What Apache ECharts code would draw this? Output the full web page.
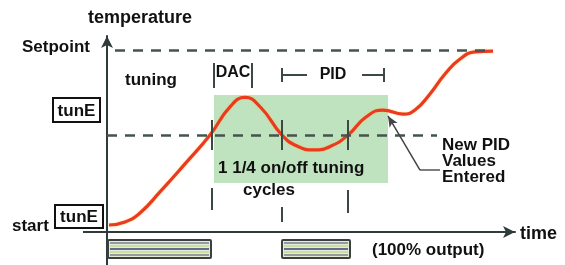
<!DOCTYPE html>
<html>
<head>
<meta charset="utf-8">
<script src="https://cdn.jsdelivr.net/npm/echarts@6/dist/echarts.min.js"></script>
<style>
html,body{margin:0;padding:0;background:#fff;}
#c{width:565px;height:265px;}
</style>
</head>
<body>
<div id="c"></div>
<script>
// ---- data (time units, temperature units: start = 0, setpoint = 100) ----
const timeVals = [0.5, 4.5, 8.25, 13.25, 19.5, 25.75, 30.75, 34.5, 38.5, 43.75, 47.5, 51.75, 56, 60.25, 64.75, 69, 74, 77, 80.75, 84.5, 88.25, 92, 96.5];
const tempVals = [0, 1.7, 6.9, 18.9, 34.9, 51.4, 67.5, 72.9, 67, 51.4, 45.1, 42.9, 45.1, 51.4, 61.7, 65.7, 63.4, 65.7, 74.9, 86.3, 94.9, 98.9, 99.4];
const setpointTemp = 100;
const setpointSpan = [2, 95];
const tuneTemp = 51.4;
const tuneSpan = [0, 82.5];
const tuningBox = [[26.75, 74.3], [70.25, 24]];
const markerTimes = [26.25, 43.75, 60.25];
const markerUpper = [[60, 42.9], [60, 42.9], [60, 42.9]];
const markerLower = [[21.1, 8.6], [10.3, 1.7], [20, 6.9]];
const dacSpan = [26.75, 36.25];
const dacTemps = [78.3, 92.6];
const pidSpan = [43.75, 69.25];
const pidTemps = [81.7, 89.7];
const pidBarTemp = 85.7;
const pidGap = [50, 63.75];
const arrowFrom = [78.25, 31.4];
const arrowTo = [70.25, 62.3];
const arrowTail = [83.25, 31.4];
const outputOn = [[0.25, 26], [43.75, 60.75]];

const chart = echarts.init(document.getElementById('c'), null, {renderer: 'canvas'});
const dark = '#2f3b3a';
const dashCol = '#46534f';
const F = '"Liberation Sans", Arial, sans-serif';

const curve = timeVals.map((t, i) => [t, tempVals[i]]);

function seg(a, b) { return [{coord: a}, {coord: b}]; }

const markerSegs = [];
markerTimes.forEach((t, i) => {
  markerSegs.push(seg([t, markerUpper[i][0]], [t, markerUpper[i][1]]));
  markerSegs.push(seg([t, markerLower[i][0]], [t, markerLower[i][1]]));
});

const bracketSegs = [
  seg([dacSpan[0], dacTemps[0]], [dacSpan[0], dacTemps[1]]),
  seg([dacSpan[1], dacTemps[0]], [dacSpan[1], dacTemps[1]]),
  seg([pidSpan[0], pidTemps[0]], [pidSpan[0], pidTemps[1]]),
  seg([pidSpan[1], pidTemps[0]], [pidSpan[1], pidTemps[1]]),
  seg([pidSpan[0], pidBarTemp], [pidGap[0], pidBarTemp]),
  seg([pidGap[1], pidBarTemp], [pidSpan[1], pidBarTemp])
];

function txt(text, x, y, align, size) {
  return {type: 'text', x: x, y: y, z: 100, style: {text: text, fill: '#111', font: 'bold ' + (size || 17) + 'px ' + F, textAlign: align || 'left', textVerticalAlign: 'middle'}};
}
function boxTxt(text, x1, y1, x2, y2) {
  return [
    {type: 'rect', z: 100, shape: {x: x1, y: y1, width: x2 - x1, height: y2 - y1}, style: {fill: '#fff', stroke: '#111', lineWidth: 2}},
    {type: 'text', z: 101, x: (x1 + x2) / 2, y: (y1 + y2) / 2 + 1, style: {text: text, fill: '#111', font: 'bold 17px ' + F, textAlign: 'center', textVerticalAlign: 'middle'}}
  ];
}

const option = {
  backgroundColor: '#fff',
  animation: false,
  grid: [
    {left: 107, top: 36, width: 408, height: 196},
    {left: 107, top: 233, width: 408, height: 32}
  ],
  xAxis: [
    {type: 'value', gridIndex: 0, min: 0, max: 102, splitLine: {show: false}, axisTick: {show: false}, axisLabel: {show: false},
     axisLine: {show: true, onZero: false, symbol: ['none', 'arrow'], symbolSize: [9, 12], lineStyle: {color: dark, width: 2}}},
    {type: 'value', gridIndex: 1, min: 0, max: 102, show: false}
  ],
  yAxis: [
    {type: 'value', gridIndex: 0, min: -4, max: 108, splitLine: {show: false}, axisTick: {show: false}, axisLabel: {show: false},
     axisLine: {show: true, onZero: false, symbol: ['none', 'arrow'], symbolSize: [9, 12], lineStyle: {color: dark, width: 2}}},
    {type: 'value', gridIndex: 1, min: 0, max: 1, splitLine: {show: false}, axisTick: {show: false}, axisLabel: {show: false},
     axisLine: {show: true, onZero: false, lineStyle: {color: dark, width: 2}}}
  ],
  series: [
    {
      type: 'line', xAxisIndex: 0, yAxisIndex: 0, data: [], z: 1,
      markArea: {silent: true, itemStyle: {color: '#bfe3bf'}, data: [[{coord: tuningBox[0]}, {coord: tuningBox[1]}]]}
    },
    {
      type: 'line', xAxisIndex: 0, yAxisIndex: 0, data: [], z: 2,
      markLine: {silent: true, symbol: 'none', label: {show: false},
        lineStyle: {color: dashCol, width: 2.5, type: [10, 8]},
        data: [
          seg([setpointSpan[0], setpointTemp], [setpointSpan[1], setpointTemp]),
          seg([tuneSpan[0], tuneTemp], [tuneSpan[1], tuneTemp])
        ]}
    },
    {
      type: 'line', xAxisIndex: 0, yAxisIndex: 0, data: curve, z: 3,
      smooth: 0.5, showSymbol: false, symbol: 'none',
      lineStyle: {color: '#ec3a22', width: 3.2, shadowColor: 'rgba(250,200,60,0.7)', shadowBlur: 2}
    },
    {
      type: 'line', xAxisIndex: 0, yAxisIndex: 0, data: [], z: 4,
      markLine: {silent: true, symbol: 'none', label: {show: false},
        lineStyle: {color: '#3c4845', width: 2, type: 'solid'},
        data: markerSegs.concat(bracketSegs)}
    },
    {
      type: 'line', xAxisIndex: 0, yAxisIndex: 0, data: [], z: 5,
      markLine: {silent: true, label: {show: false}, symbol: ['none', 'none'],
        lineStyle: {color: '#555', width: 1.5, type: 'solid'},
        data: [seg(arrowTail, arrowFrom)]}
    },
    {
      type: 'line', xAxisIndex: 0, yAxisIndex: 0, data: [], z: 5,
      markLine: {silent: true, label: {show: false}, symbol: ['none', 'arrow'], symbolSize: [7, 11],
        lineStyle: {color: '#444', width: 1.5, type: 'solid'}, itemStyle: {color: '#111'},
        data: [seg(arrowFrom, arrowTo)]}
    },
    {
      type: 'custom', xAxisIndex: 1, yAxisIndex: 1, data: outputOn, z: 3,
      renderItem: function (params, api) {
        const p0 = api.coord([api.value(0), 0.5]);
        const p1 = api.coord([api.value(1), 0.5]);
        const h = 18, top = p0[1] - h / 2;
        const children = [{type: 'rect', shape: {x: p0[0], y: top, width: p1[0] - p0[0], height: h, r: 1}, style: {fill: '#e4ecd8', stroke: '#3a4040', lineWidth: 2}}];
        const cols = ['#7a7f8a', '#c3dc86', '#3b3f86', '#c3dc86', '#7a7f8a'];
        cols.forEach((c, i) => {
          const y = top + 3 + i * 3;
          children.push({type: 'line', shape: {x1: p0[0] + 2, y1: y, x2: p1[0] - 2, y2: y}, style: {stroke: c, lineWidth: 1.5}});
        });
        return {type: 'group', children: children};
      }
    }
  ],
  graphic: [
    txt('temperature', 140, 18, 'center', 18),
    txt('Setpoint', 22, 47),
    txt('tuning', 125, 80),
    ...boxTxt('tunE', 53, 98, 100, 122),
    txt('start', 12, 226),
    ...boxTxt('tunE', 55, 205, 103, 228),
    txt('DAC', 233, 73, 'center', 16),
    txt('PID', 333, 75, 'center', 16),
    txt('1 1/4 on/off tuning', 218, 168),
    txt('cycles', 243, 190),
    txt('New PID', 442, 145),
    txt('Values', 442, 161),
    txt('Entered', 442, 177),
    txt('time', 520, 234, 'left', 18),
    txt('(100% output)', 372, 250),
    {type: 'line', z: 50, shape: {x1: 83, y1: 232, x2: 107, y2: 232}, style: {stroke: dark, lineWidth: 2}}
  ]
};
chart.setOption(option);
</script>
</body>
</html>
